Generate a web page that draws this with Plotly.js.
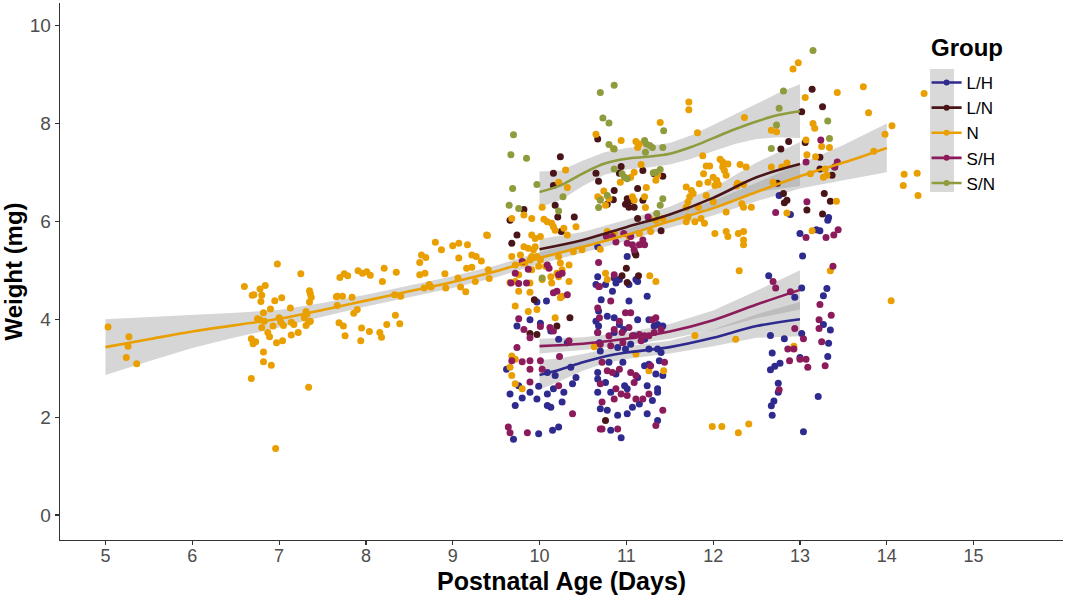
<!DOCTYPE html>
<html>
<head>
<meta charset="utf-8">
<script src="https://cdn.plot.ly/plotly-3.0.1.min.js"></script>
<style>
  html, body { margin: 0; padding: 0; background: #fff; }
  #chart { width: 1065px; height: 596px; }
</style>
</head>
<body>
<div id="chart"></div>
<script>
// ---- groups and colours ----
var groups = ['L/H', 'L/N', 'N', 'S/H', 'S/N'];
var colors = {'L/H': '#2f2a8e', 'L/N': '#4a1518', 'N': '#e99f00', 'S/H': '#8c1b5c', 'S/N': '#8f9b3c'};

// ---- points: [age (days), weight (mg)] ----
var pts_LH = [
  [9.97,4.35],[10.08,4.37],[9.89,3.99],[10.01,3.92],[10.13,3.76],[10.22,3.59],[10.32,3.52],[9.74,3.86],
  [9.62,2.98],[9.76,2.64],[9.66,2.47],[9.89,2.51],[9.99,2.63],[9.80,2.39],[9.97,2.37],[10.09,2.47],
  [10.16,2.58],[10.28,2.51],[10.38,2.68],[10.09,2.24],[10.13,2.20],[10.26,2.31],[9.72,2.24],[9.70,1.55],
  [9.99,1.66],[10.15,1.73],[10.22,1.80],[10.42,2.81],[10.67,4.87],[10.65,4.71],[10.71,4.40],[10.65,3.96],
  [10.67,3.73],[10.69,3.52],[10.67,2.78],[10.67,2.51],[10.70,2.17],[10.36,3.02],[10.18,2.85],[10.09,2.91],
  [11.01,5.28],[10.76,4.71],[10.88,4.74],[10.92,4.81],[11.11,4.81],[11.13,4.77],[11.03,4.71],[10.84,4.57],
  [11.03,4.37],[11.24,4.47],[10.68,4.17],[10.78,4.06],[10.86,4.03],[10.92,3.89],[11.13,3.99],[11.26,3.99],
  [11.36,3.89],[11.42,3.86],[10.68,3.86],[10.86,3.73],[10.97,3.79],[11.09,3.66],[11.21,3.59],[11.32,3.86],
  [10.70,3.35],[10.90,3.42],[10.99,3.39],[11.05,3.49],[11.26,3.39],[11.36,3.39],[11.40,3.32],[10.80,3.12],
  [10.96,3.12],[11.21,3.05],[11.26,3.08],[11.38,3.15],[10.67,2.91],[10.88,2.88],[11.13,2.81],[11.34,2.88],
  [11.42,2.85],[10.76,2.71],[10.98,2.64],[11.24,2.64],[11.36,2.58],[10.82,2.51],[11.01,2.58],[11.07,2.20],
  [11.15,2.27],[11.30,2.34],[11.36,2.51],[10.78,2.14],[10.90,2.04],[11.01,2.07],[11.24,2.07],[11.36,1.93],
  [10.82,1.73],[10.94,1.58],[10.67,5.48],[10.86,4.84],
  [13.03,5.29],[12.64,4.89],[13.02,4.64],[12.94,4.45],[13.31,4.63],[13.27,4.48],[13.27,3.89],[13.35,3.78],
  [13.33,3.51],[13.32,3.24],[12.66,3.67],[12.82,3.60],[13.02,3.71],[12.68,3.31],[12.77,3.10],[12.71,3.04],
  [12.66,2.97],[13.00,3.22],[12.75,2.69],[12.75,2.51],[12.70,2.33],[12.67,2.23],[12.68,2.04],[13.21,2.42],
  [13.04,1.70],[12.76,6.53],[12.89,6.14],[13.33,6.08],[13.32,6.02],[13.19,5.83],[13.23,5.81],[13.00,5.75]
];
var pts_LN = [
  [10.24,7.32],[10.67,7.68],[10.16,6.98],[10.16,6.73],[10.65,6.98],[10.68,6.82],[10.94,7.12],[10.92,6.98],
  [11.19,7.04],[11.32,6.97],[11.42,6.92],[10.86,6.63],[10.85,6.44],[11.01,6.46],[10.99,6.35],[11.03,6.29],
  [11.09,6.29],[11.13,6.67],[11.19,6.43],[10.18,6.33],[10.21,6.09],[10.40,6.09],[9.82,6.24],[9.66,6.02],
  [9.74,5.72],[10.25,5.79],[11.40,5.81],[10.78,6.35],[11.05,6.42],[9.68,5.55],[11.13,6.06],[11.10,5.35],
  [11.00,5.04],[11.01,4.75],[13.14,8.70],[13.26,8.34],[13.02,8.24],[12.87,7.63],[12.78,7.48],[13.06,7.61],
  [13.23,7.31],[13.23,7.07],[13.37,6.94],[13.40,7.11],[12.74,6.78],[12.81,6.57],[12.85,6.43],[12.82,6.38],
  [13.28,6.57],[13.35,6.41],[13.08,6.23],[13.26,6.15],[9.94,4.40],[9.89,3.71],[9.97,3.69],[10.20,3.86],
  [10.35,4.03],[10.76,1.93],[11.14,4.89],[10.95,4.89],[11.11,5.31]
];
var pts_N = [
  [5.03,3.84],[5.27,3.64],[5.26,3.45],[5.24,3.22],[5.36,3.09],[6.60,4.67],[6.69,4.49],[6.71,4.50],
  [6.78,4.62],[6.84,4.69],[6.80,4.49],[6.79,4.36],[6.98,5.13],[6.95,4.38],[7.03,4.44],[6.90,4.21],
  [6.82,4.13],[6.75,4.01],[6.78,3.99],[6.83,3.96],[6.80,3.83],[6.93,3.86],[7.00,4.03],[7.02,3.94],
  [7.05,3.87],[7.13,4.23],[7.14,3.94],[7.17,3.89],[7.25,4.93],[7.35,4.58],[7.36,4.52],[7.37,4.45],
  [7.35,4.35],[7.31,4.16],[7.32,4.10],[7.29,4.03],[7.36,3.96],[7.31,3.87],[7.34,3.94],[6.68,3.60],
  [6.70,3.50],[6.73,3.54],[6.87,3.73],[6.89,3.64],[6.97,3.52],[7.04,3.56],[7.14,3.68],[7.22,3.73],
  [6.82,3.33],[6.82,3.13],[6.91,3.06],[6.68,2.79],[7.34,2.61],[6.96,1.36],[7.67,4.47],[7.73,4.47],
  [7.66,4.46],[7.84,4.45],[7.70,4.85],[7.75,4.93],[7.79,4.89],[7.91,4.99],[7.96,4.94],[8.01,4.97],
  [8.05,4.90],[8.21,5.04],[8.19,4.77],[8.35,4.96],[7.67,4.28],[7.90,4.20],[7.86,4.12],[7.69,3.93],
  [7.74,3.86],[7.76,3.66],[7.95,3.82],[8.04,3.75],[7.94,3.56],[8.16,3.73],[8.18,3.63],[8.24,3.89],
  [8.34,4.08],[8.39,3.91],[8.33,4.50],[8.40,4.47],[8.62,5.16],[8.64,5.31],[8.69,5.26],[8.80,5.57],
  [8.87,5.42],[9.00,5.50],[9.07,5.55],[9.17,5.52],[9.07,5.25],[9.22,5.31],[9.27,5.28],[9.33,5.19],
  [9.40,5.71],[8.62,4.91],[8.68,4.94],[8.67,4.64],[8.73,4.71],[8.75,4.66],[8.91,4.93],[8.92,4.64],
  [9.06,4.84],[9.09,4.66],[9.15,4.56],[9.16,5.04],[9.22,5.06],[9.26,4.77],[9.41,5.01],[9.42,4.83],
  [10.65,7.78],[10.94,7.65],[11.11,7.63],[11.15,7.58],[11.13,7.51],[11.39,8.02],[10.85,7.49],[10.30,7.05],
  [10.22,6.80],[10.32,6.69],[11.09,7.00],[11.17,7.16],[11.34,6.84],[11.36,6.94],[10.93,6.80],[11.05,6.90],
  [11.23,6.69],[10.74,6.62],[10.80,6.46],[10.70,6.46],[10.67,6.50],[11.07,6.50],[11.09,6.43],[11.21,6.50],
  [11.22,6.28],[11.27,6.06],[10.76,6.33],[10.03,6.29],[9.82,6.13],[9.91,6.06],[10.05,6.04],[10.09,5.99],
  [10.14,5.96],[10.16,5.89],[10.18,5.82],[10.28,5.86],[10.32,5.72],[10.42,5.89],[9.68,6.06],[9.39,5.72],
  [9.91,5.72],[9.95,5.65],[10.01,5.69],[9.82,5.48],[9.87,5.45],[9.95,5.48],[9.68,5.28],[9.91,5.28],
  [9.97,5.28],[10.01,5.21],[9.72,5.11],[9.83,5.15],[9.91,5.01],[9.99,5.08],[10.07,5.08],[10.22,5.28],
  [10.24,5.15],[10.26,5.01],[10.20,4.94],[10.34,5.11],[10.39,5.38],[10.49,5.42],[10.86,5.75],[11.03,5.69],
  [11.15,5.75],[11.28,5.79],[11.34,6.02],[11.42,6.06],[9.72,4.77],[9.76,4.57],[9.89,4.74],[10.03,4.81],
  [10.14,4.74],[10.34,4.77],[10.22,4.87],[10.76,4.94],[10.78,4.81],[11.34,4.77],[9.78,5.31],[9.80,5.15],
  [9.89,5.21],[9.93,5.42],[9.76,4.91],[9.66,4.75],[9.89,4.55],[9.72,4.27],[9.87,4.16],[9.97,4.20],
  [10.18,4.03],[10.13,4.87],[10.26,4.47],[10.24,4.44],[9.68,3.25],[9.72,3.18],[9.66,3.02],[9.68,2.85],
  [9.72,2.68],[9.80,2.58],[10.63,3.44],[11.27,4.89],[11.11,3.29],[11.26,2.95],[11.43,2.95],[10.78,5.79],
  [10.70,5.43],
  [11.72,8.44],[11.72,8.28],[11.82,7.81],[12.36,8.12],[12.92,9.11],[12.98,9.24],[13.06,8.53],[13.43,8.63],
  [13.73,8.75],[14.43,8.61],[13.79,8.22],[14.06,7.95],[13.98,7.78],[13.85,7.43],[12.67,7.86],[12.73,7.83],
  [13.15,8.00],[13.17,7.90],[13.07,7.66],[13.08,7.36],[13.18,7.32],[13.25,7.53],[13.34,7.51],[13.12,6.97],
  [13.29,7.07],[13.31,6.94],[13.27,6.90],[13.42,6.41],[12.85,6.17],[13.14,5.81],[14.20,6.96],[14.35,6.98],
  [14.19,6.73],[14.36,6.53],[11.88,7.34],[11.92,7.13],[11.96,7.13],[11.89,6.97],[12.08,7.27],[12.11,7.21],
  [12.11,7.11],[12.13,7.04],[12.15,6.94],[12.17,7.17],[12.31,7.16],[12.38,7.11],[12.00,6.90],[12.04,6.84],
  [11.94,6.80],[12.02,6.73],[12.06,6.75],[12.28,6.78],[12.35,6.75],[12.27,6.72],[12.67,7.11],[12.79,7.11],
  [12.85,7.19],[12.69,6.80],[11.69,6.70],[11.75,6.63],[11.84,6.77],[11.77,6.57],[11.73,6.50],[11.92,6.53],
  [12.00,6.40],[11.71,6.40],[11.69,6.29],[11.83,6.29],[12.15,6.19],[12.33,6.36],[12.35,6.29],[12.44,6.29],
  [11.71,6.09],[11.69,5.99],[11.79,5.99],[11.86,6.06],[11.90,5.96],[12.02,5.75],[12.15,5.79],[12.17,5.69],
  [12.29,5.75],[12.35,5.79],[12.35,5.62],[12.35,5.52],[12.30,4.99],[13.35,4.99],[14.05,4.38],[11.79,3.67],
  [12.26,3.59],[12.93,3.45],[11.99,1.81],[12.10,1.81],[12.29,1.68],[12.41,1.86]
];
var pts_SH = [
  [9.80,5.18],[9.87,5.02],[9.67,4.74],[9.76,4.73],[9.85,4.74],[10.11,5.04],[10.26,4.94],[10.20,4.57],
  [10.32,4.50],[9.76,4.01],[9.82,3.79],[10.01,3.85],[10.12,3.83],[10.16,3.76],[9.89,3.62],[9.74,3.42],
  [9.68,3.15],[9.80,3.13],[9.89,3.15],[10.01,3.15],[10.23,3.24],[10.34,3.56],[9.89,2.98],[10.03,2.98],
  [9.89,2.72],[10.22,2.64],[10.38,2.07],[9.64,1.80],[9.66,1.68],[9.86,1.68],[10.70,1.76],[10.67,4.23],
  [10.69,4.03],[10.69,4.67],[10.68,5.16],[10.97,5.75],[11.01,5.55],[11.07,5.52],[11.15,5.52],[11.05,5.69],
  [11.09,5.42],[11.19,5.62],[11.21,5.52],[10.86,4.91],[10.68,4.67],[10.82,4.37],[10.99,4.13],[11.05,4.13],
  [10.92,3.96],[11.03,3.83],[10.86,3.79],[10.95,3.73],[10.67,3.73],[10.80,3.66],[10.70,3.49],[11.07,3.66],
  [11.15,3.69],[11.21,3.66],[11.26,3.66],[11.32,3.73],[11.40,3.79],[11.30,3.99],[11.34,4.03],[10.82,3.46],
  [10.96,3.52],[11.17,3.56],[10.72,3.12],[10.78,2.95],[10.84,2.91],[10.92,2.98],[11.05,2.91],[11.11,2.85],
  [11.28,3.05],[11.44,3.12],[10.70,2.68],[10.88,2.58],[10.94,2.47],[11.01,2.44],[11.11,2.37],[10.86,2.37],
  [10.72,2.31],[11.19,2.37],[11.09,2.71],[10.72,1.76],[10.90,1.76],[11.34,1.83],[11.42,2.14],[11.26,2.47],
  [11.25,6.09],[10.77,5.69],[10.84,5.69],[10.88,5.58],[9.72,4.94],[10.09,5.11],[10.22,4.91],[10.16,4.54],
  [13.38,5.08],[12.69,4.77],[12.72,4.64],[12.89,4.56],[13.23,4.30],[13.36,4.08],[13.22,3.99],[13.22,3.81],
  [12.94,3.81],[13.04,3.60],[13.25,3.54],[12.86,3.39],[12.93,3.39],[12.88,3.15],[13.00,3.18],[13.07,3.18],
  [13.09,3.02],[13.29,3.05],[12.76,2.56],[13.24,7.66],[13.43,7.21],[13.07,7.21],[13.40,7.11],[13.08,6.40],
  [12.72,6.18],[13.44,5.83],[13.30,5.67],[13.39,5.72],[13.07,5.67]
];
var pts_SN = [
  [10.70,8.63],[10.86,8.78],[10.73,8.11],[10.80,8.01],[9.70,7.77],[9.67,7.36],[9.85,7.29],[9.97,6.75],
  [9.69,6.67],[9.65,6.33],[9.76,6.26],[10.27,6.50],[10.22,6.21],[10.80,7.57],[10.86,7.48],[11.21,7.65],
  [11.23,7.58],[11.27,7.55],[11.30,7.51],[11.42,7.51],[11.22,7.41],[11.43,7.85],[10.86,7.07],[10.95,6.97],
  [10.98,6.90],[11.01,6.87],[11.31,6.99],[11.39,7.06],[10.70,6.43],[10.68,6.28],[10.78,6.53],[11.42,6.46],
  [11.39,6.33],[11.35,6.16],[13.15,9.49],[12.81,8.66],[12.76,8.31],[12.73,7.97],[13.32,8.05],[13.34,7.69],
  [12.67,7.49],[11.34,7.00],[10.03,4.84]
];

// ---- smoothed fits (loess) with 95% band ----
var fit_N_x  = [5, 5.5, 6, 6.5, 7, 7.5, 8, 8.5, 9, 9.5, 10, 10.5, 11, 11.5, 12, 12.5, 13, 13.5, 14];
var fit_N_y  = [3.43, 3.59, 3.75, 3.88, 4.01, 4.19, 4.38, 4.57, 4.76, 4.98, 5.25, 5.48, 5.72, 6.00, 6.27, 6.60, 6.92, 7.20, 7.50];
var fit_N_lo = [2.86, 3.14, 3.41, 3.63, 3.83, 4.05, 4.26, 4.45, 4.64, 4.86, 5.13, 5.36, 5.60, 5.87, 6.12, 6.41, 6.67, 6.84, 7.00];
var fit_N_hi = [4.00, 4.04, 4.09, 4.13, 4.19, 4.33, 4.50, 4.69, 4.88, 5.10, 5.37, 5.60, 5.84, 6.13, 6.42, 6.79, 7.17, 7.56, 8.00];

var fit_SN_x  = [10, 10.25, 10.5, 10.75, 11, 11.25, 11.5, 11.75, 12, 12.25, 12.5, 12.75, 13];
var fit_SN_y  = [6.60, 6.74, 6.98, 7.18, 7.28, 7.32, 7.38, 7.52, 7.70, 7.88, 8.04, 8.17, 8.25];
var fit_SN_lo = [6.28, 6.44, 6.72, 6.95, 7.06, 7.10, 7.16, 7.28, 7.43, 7.58, 7.68, 7.72, 7.70];
var fit_SN_hi = [7.02, 7.04, 7.24, 7.41, 7.50, 7.54, 7.60, 7.76, 7.97, 8.18, 8.40, 8.62, 8.80];

var fit_LN_x  = [10, 10.5, 11, 11.5, 12, 12.5, 13];
var fit_LN_y  = [5.43, 5.62, 5.88, 6.14, 6.48, 6.90, 7.17];
var fit_LN_lo = [5.22, 5.46, 5.73, 5.98, 6.28, 6.60, 6.72];
var fit_LN_hi = [5.64, 5.78, 6.03, 6.30, 6.68, 7.20, 7.62];

var fit_SH_x  = [10, 10.5, 11, 11.5, 12, 12.5, 13];
var fit_SH_y  = [3.45, 3.50, 3.60, 3.75, 3.98, 4.30, 4.60];
var fit_SH_lo = [3.30, 3.37, 3.47, 3.60, 3.78, 4.02, 4.20];
var fit_SH_hi = [3.60, 3.63, 3.73, 3.90, 4.18, 4.58, 5.00];

var fit_LH_x  = [10, 10.25, 10.5, 10.75, 11, 11.5, 12, 12.5, 13];
var fit_LH_y  = [2.86, 2.98, 3.12, 3.24, 3.32, 3.43, 3.62, 3.86, 4.00];
var fit_LH_lo = [2.56, 2.75, 2.95, 3.10, 3.19, 3.30, 3.45, 3.62, 3.65];
var fit_LH_hi = [3.16, 3.21, 3.29, 3.38, 3.45, 3.56, 3.79, 4.10, 4.35];

var xTicks = [5, 6, 7, 8, 9, 10, 11, 12, 13, 14, 15];
var yTicks = [0, 2, 4, 6, 8, 10];

var points = {'L/H': pts_LH, 'L/N': pts_LN, 'N': pts_N, 'S/H': pts_SH, 'S/N': pts_SN};
var fits = {
  'L/H': [fit_LH_x, fit_LH_y, fit_LH_lo, fit_LH_hi],
  'L/N': [fit_LN_x, fit_LN_y, fit_LN_lo, fit_LN_hi],
  'N':   [fit_N_x,  fit_N_y,  fit_N_lo,  fit_N_hi],
  'S/H': [fit_SH_x, fit_SH_y, fit_SH_lo, fit_SH_hi],
  'S/N': [fit_SN_x, fit_SN_y, fit_SN_lo, fit_SN_hi]
};

var FONT = 'Liberation Sans, Arial, sans-serif';
var data = [];

// confidence bands first (grey, semi transparent)
groups.forEach(function (g) {
  var f = fits[g];
  var bx = f[0].concat(f[0].slice().reverse());
  var by = f[3].concat(f[2].slice().reverse());
  data.push({
    x: bx, y: by, type: 'scatter', mode: 'lines', fill: 'toself',
    fillcolor: 'rgba(153,153,153,0.4)', line: {width: 0},
    hoverinfo: 'skip', showlegend: false
  });
});

// points
groups.forEach(function (g) {
  var p = points[g];
  data.push({
    x: p.map(function (d) { return d[0]; }),
    y: p.map(function (d) { return d[1]; }),
    type: 'scatter', mode: 'markers', name: g,
    marker: {color: colors[g], size: 7},
    showlegend: false
  });
});

// fitted lines
groups.forEach(function (g) {
  var f = fits[g];
  data.push({
    x: f[0], y: f[1], type: 'scatter', mode: 'lines', line: {color: colors[g], width: 2.6, shape: 'spline'},
    hoverinfo: 'skip', showlegend: false
  });
});

// legend keys (line + point)
groups.forEach(function (g) {
  data.push({
    x: [null], y: [null], type: 'scatter', mode: 'lines+markers', name: g,
    line: {color: colors[g], width: 2.6}, marker: {color: colors[g], size: 6}
  });
});

var layout = {
  width: 1065, height: 596,
  margin: {l: 60, r: 2, t: 3, b: 56},
  paper_bgcolor: '#fff', plot_bgcolor: '#fff',
  font: {family: FONT, color: '#4d4d4d'},
  xaxis: {
    range: [4.476, 16.03], tickvals: xTicks, ticktext: xTicks.map(String),
    showgrid: false, zeroline: false, showline: true, linecolor: '#333', linewidth: 1.3,
    ticks: 'outside', ticklen: 4, tickcolor: '#333', tickwidth: 1.2, ticklabelstandoff: -5,
    tickfont: {size: 18, color: '#4d4d4d'}
  },
  yaxis: {
    range: [-0.51, 10.46], tickvals: yTicks, ticktext: yTicks.map(String),
    showgrid: false, zeroline: false, showline: true, linecolor: '#333', linewidth: 1.3,
    ticks: 'outside', ticklen: 4, tickcolor: '#333', tickwidth: 1.2,
    tickfont: {size: 19, color: '#4d4d4d'},
    title: {text: 'Weight (mg)', font: {size: 24, color: '#000', family: FONT, weight: 'bold'}, standoff: 8}
  },
  legend: {
    x: 0.864, y: 0.8845, xanchor: 'left', yanchor: 'top',
    bgcolor: 'rgba(0,0,0,0)', font: {size: 17, color: '#000'},
    tracegroupgap: 0, itemwidth: 30
  },
  annotations: [{
    text: 'Group', xref: 'paper', yref: 'paper', x: (929 - 60) / 1003, y: (543 - 50) / 537,
    xanchor: 'left', yanchor: 'middle', showarrow: false,
    font: {size: 24, color: '#000', family: FONT, weight: 'bold'}
  }, {
    text: 'Postnatal Age (Days)', xref: 'paper', yref: 'paper', x: 0.5, y: -(596 - 540) / 537,
    xanchor: 'center', yanchor: 'bottom', showarrow: false, borderpad: 0,
    font: {size: 25, color: '#000', family: FONT, weight: 'bold'}
  }],
  shapes: [{
    type: 'rect', xref: 'paper', yref: 'paper',
    x0: (930 - 60) / 1003, x1: (954 - 60) / 1003,
    y0: (543 - 195) / 537, y1: (543 - 72) / 537,
    fillcolor: '#d9d9d9', line: {width: 0}, layer: 'below'
  }],
  showlegend: true
};

Plotly.newPlot('chart', data, layout, {displayModeBar: false, staticPlot: true});
</script>
</body>
</html>
